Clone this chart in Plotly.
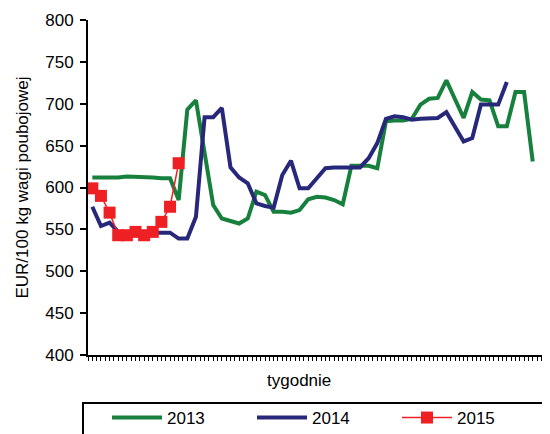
import plotly.graph_objects as go

weeks_2013 = list(range(1, 53))
prices_2013 = [612, 612, 611, 612, 613, 613, 612, 612, 611, 611,
               585, 693, 704, 640, 579, 563, 560, 557, 563, 595,
               591, 571, 571, 570, 573, 586, 589, 588, 585, 580,
               626, 626, 626, 623, 679, 680, 680, 682, 699, 706,
               707, 728, 705, 683, 714, 705, 704, 673, 673, 714,
               714, 631]

weeks_2014 = list(range(1, 50))
prices_2014 = [577, 554, 558, 547, 547, 548, 546, 546, 547, 546,
               539, 539, 565, 684, 684, 695, 624, 612, 605, 581,
               578, 576, 615, 632, 599, 599, 611, 623, 624, 624,
               624, 624, 635, 653, 682, 685, 684, 681, 682, 683,
               683, 690, 672, 655, 659, 699, 699, 699, 726]

weeks_2015 = list(range(1, 12))
prices_2015 = [599, 590, 570, 543, 543, 547, 543, 547, 559, 577, 629]

series_names = ["2013", "2014", "2015"]
y_title = "EUR/100 kg wagi poubojowej"
x_title = "tygodnie"

FONT = "Liberation Sans, Arial, sans-serif"
GREEN = "#17803d"
NAVY = "#28287a"
RED = "#ee2024"

fig = go.Figure()
fig.add_trace(go.Scatter(x=weeks_2013, y=prices_2013, mode="lines", name=series_names[0],
                         line=dict(color=GREEN, width=4)))
fig.add_trace(go.Scatter(x=weeks_2014, y=prices_2014, mode="lines", name=series_names[1],
                         line=dict(color=NAVY, width=4)))
fig.add_trace(go.Scatter(x=weeks_2015, y=prices_2015, mode="lines+markers", name=series_names[2],
                         line=dict(color=RED, width=1.5),
                         marker=dict(symbol="square", size=12, color=RED)))

# page body has an 8px offset; work in window pixels and convert
OFF = 8
W, H = 550 - OFF, 434 - OFF
L, R, T = 88 - OFF, 0, 20 - OFF
B = H - (355 - OFF)
pw = W - L - R
ph = H - T - B

def px_x(px):
    return (px - OFF - L) / pw

def px_y(py):
    return (H - B - (py - OFF)) / ph

fig.update_layout(
    width=W, height=H,
    margin=dict(l=L, r=R, t=T, b=B, autoexpand=False),
    paper_bgcolor="white", plot_bgcolor="white",
    font=dict(family=FONT, size=17, color="black"),
    showlegend=True,
    legend=dict(orientation="h", x=px_x(107), xanchor="left", y=px_y(400), yanchor="top",
                bgcolor="rgba(0,0,0,0)", borderwidth=0, itemwidth=50,
                entrywidth=80, font=dict(size=17, family=FONT)),
    xaxis=dict(range=[0.5, 54.0], showline=True, linecolor="black", linewidth=2,
               ticks="outside", tickmode="linear", tick0=0.5, dtick=0.5, ticklen=4,
               tickwidth=1, tickcolor="black", showticklabels=False, showgrid=False,
               zeroline=False),
    yaxis=dict(range=[400, 800], showline=True, linecolor="black", linewidth=2,
               ticks="outside", tickmode="linear", tick0=400, dtick=50, ticklen=6,
               tickwidth=1.5, tickcolor="black", showgrid=False, zeroline=False,
               ticklabelstandoff=3,
               tickfont=dict(size=17, family=FONT),
               title=dict(text=y_title, font=dict(size=17, family=FONT), standoff=12)),
    shapes=[dict(type="rect", xref="paper", yref="paper",
                 x0=px_x(83), x1=px_x(570), y0=px_y(445), y1=px_y(403),
                 line=dict(color="black", width=2), fillcolor="rgba(0,0,0,0)")],
    annotations=[dict(text=x_title, xref="paper", yref="paper", x=px_x(298.5), y=px_y(381),
                      xanchor="center", yanchor="middle", showarrow=False,
                      font=dict(size=17, family=FONT))],
)

fig.write_html("out.html")
